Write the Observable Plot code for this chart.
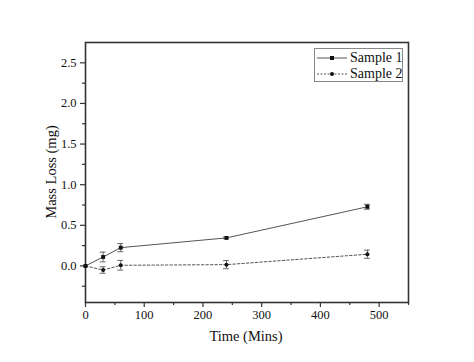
<!DOCTYPE html>
<html>
<head>
<meta charset="utf-8">
<script src="https://cdn.jsdelivr.net/npm/d3@7"></script>
<script src="https://cdn.jsdelivr.net/npm/@observablehq/plot@0.6"></script>
<style>
  html, body { margin: 0; padding: 0; background: #fff; }
  #wrap { position: relative; width: 474px; height: 362px; }
  #wrap svg, #wrap svg g, #wrap svg text { font-family: "Liberation Serif", "Times New Roman", serif !important; }
  #legend { position: absolute; left: 314px; top: 48px; width: 89px; height: 34px; box-sizing: border-box;
    border: 1px solid #888; background: #fff; font-family: "Liberation Serif", serif; font-size: 14px; color: #111; white-space: nowrap; }
  #legend .row { position: absolute; left: 1px; height: 16px; display: flex; align-items: center; }
  #legend svg { margin-right: 2px; flex: none; }
</style>
</head>
<body>
<div id="wrap"></div>
<script>
const times = [0, 30, 60, 240, 480];
const sample1 = [0, 0.11, 0.225, 0.345, 0.728];
const sample1Err = [0, 0.06, 0.05, 0.01, 0.03];
const sample2 = [0, -0.05, 0.008, 0.016, 0.144];
const sample2Err = [0, 0.04, 0.06, 0.05, 0.05];
const seriesNames = ["Sample 1", "Sample 2"];
const xTicks = [0, 100, 200, 300, 400, 500];
const xMinor = [50, 150, 250, 350, 450, 550];
const yTicks = [0, 0.5, 1.0, 1.5, 2.0, 2.5];
const yMinor = [-0.25, 0.25, 0.75, 1.25, 1.75, 2.25];

const rows = [];
times.forEach((t, i) => {
  rows.push({series: seriesNames[0], t, v: sample1[i], e: sample1Err[i]});
  rows.push({series: seriesNames[1], t, v: sample2[i], e: sample2Err[i]});
});
const s1 = rows.filter(d => d.series === seriesNames[0]);
const s2 = rows.filter(d => d.series === seriesNames[1]);
const withErr = rows.filter(d => d.e > 0);
const capHalf = 5;

const font = '"Liberation Serif", "Times New Roman", serif';
const chart = Plot.plot({
  width: 474,
  height: 362,
  marginLeft: 85,
  marginRight: 66,
  marginTop: 42,
  marginBottom: 60,
  style: {fontFamily: font, fontSize: "12px", color: "#111", background: "#fff"},
  x: {domain: [0, 550]},
  y: {domain: [-0.45, 2.75]},
  marks: [
    Plot.axisX({ticks: xTicks, tickSize: 5, tickPadding: 3, tickFormat: d => d, fontSize: 12.5, fontFamily: font,
      label: null, stroke: "#333", strokeWidth: 1.2}),
    Plot.axisX({ticks: xMinor, tickSize: 3, tickFormat: () => "", label: null, stroke: "#333", strokeWidth: 1.2}),
    Plot.axisY({ticks: yTicks, tickSize: 5, tickPadding: 4, tickFormat: d3.format(".1f"), fontSize: 12.5, fontFamily: font,
      label: null, stroke: "#333", strokeWidth: 1.2}),
    Plot.axisY({ticks: yMinor, tickSize: 3, tickFormat: () => "", label: null, stroke: "#333", strokeWidth: 1.2}),
    Plot.frame({stroke: "#333", strokeWidth: 1.6}),
    Plot.line(s1, {x: "t", y: "v", stroke: "#555", strokeWidth: 1}),
    Plot.line(s2, {x: "t", y: "v", stroke: "#555", strokeWidth: 1, strokeDasharray: "2.5,2"}),
    Plot.ruleX(withErr, {x: "t", y1: d => d.v - d.e, y2: d => d.v + d.e, stroke: "#666", strokeWidth: 1}),
    Plot.ruleY(withErr, {y: d => d.v - d.e, x1: d => d.t - capHalf, x2: d => d.t + capHalf, stroke: "#666", strokeWidth: 1}),
    Plot.ruleY(withErr, {y: d => d.v + d.e, x1: d => d.t - capHalf, x2: d => d.t + capHalf, stroke: "#666", strokeWidth: 1}),
    Plot.dot(s1, {x: "t", y: "v", symbol: "square", r: 2.2, fill: "#111", stroke: "none"}),
    Plot.dot(s2, {x: "t", y: "v", symbol: "circle", r: 2, fill: "#111", stroke: "none"})
  ]
});
const wrap = document.getElementById("wrap");
wrap.appendChild(chart);

// axis titles
const svg = d3.select(chart);
svg.selectAll("text").attr("font-family", font);
svg.append("text").text("Time (Mins)")
  .attr("x", 246).attr("y", 341).attr("text-anchor", "middle")
  .attr("font-size", 14.5).attr("fill", "#111").attr("font-family", font);
svg.append("text").text("Mass Loss (mg)")
  .attr("transform", "translate(56,172) rotate(-90)").attr("text-anchor", "middle")
  .attr("font-size", 14.5).attr("fill", "#111").attr("font-family", font);

// legend
const legend = document.createElement("div");
legend.id = "legend";
const styles = [{dash: null, sym: "square"}, {dash: "2,1.5", sym: "circle"}];
seriesNames.forEach((name, i) => {
  const row = document.createElement("div");
  row.className = "row";
  row.style.top = (1 + i * 16) + "px";
  const st = styles[i];
  const sym = st.sym === "square"
    ? `<rect x="14" y="6" width="4" height="4" fill="#111"/>`
    : `<circle cx="16" cy="8" r="2" fill="#111"/>`;
  row.innerHTML = `<svg width="32" height="16"><line x1="1" x2="31" y1="8" y2="8" stroke="#555" stroke-width="1" ${st.dash ? `stroke-dasharray="${st.dash}"` : ""}/>${sym}</svg><span>${name}</span>`;
  legend.appendChild(row);
});
wrap.appendChild(legend);
</script>
</body>
</html>
